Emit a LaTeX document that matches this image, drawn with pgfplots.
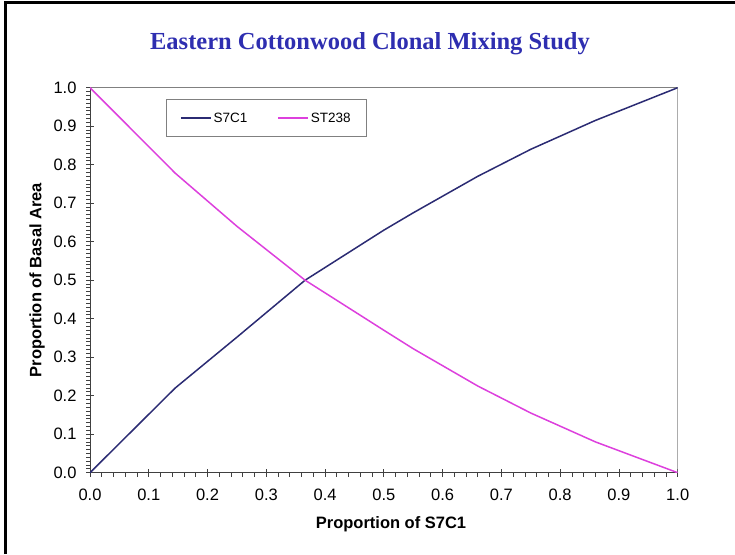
\documentclass[border=0pt]{standalone}
\usepackage{pgfplots}
\pgfplotsset{compat=1.18}
\usepackage{fontspec}
\setmainfont{Liberation Sans}
\newfontfamily\titlefont{Liberation Serif}
\definecolor{titleblue}{HTML}{2E2EB0}
\definecolor{navyline}{HTML}{2B2B73}
\definecolor{magline}{HTML}{DD40DD}
\begin{document}
\begin{tikzpicture}
\path[use as bounding box] (0pt,0pt) rectangle (735pt,554pt);
\draw[line width=3pt] (5.5pt,0pt) -- (5.5pt,551pt) -- (735pt,551pt);
\node[font=\titlefont\bfseries\fontsize{24.5}{28}\selectfont, text=titleblue] at (370pt,510pt) {Eastern Cottonwood Clonal Mixing Study};
\node[font=\bfseries\fontsize{16.5}{19}\selectfont, rotate=90] at (37pt,274pt) {Proportion of Basal Area};
\node[font=\bfseries\fontsize{16.5}{19}\selectfont] at (391pt,30pt) {Proportion of S7C1};
\begin{axis}[
  at={(90pt,81.3pt)}, anchor=south west, scale only axis,
  width=587.7pt, height=385pt,
  xmin=0, xmax=1, ymin=0, ymax=1,
  axis lines*=left,
  axis line style={draw=black!75, line width=1pt},
  xtick={0,0.1,0.2,0.3,0.4,0.5,0.6,0.7,0.8,0.9,1},
  ytick={0,0.1,0.2,0.3,0.4,0.5,0.6,0.7,0.8,0.9,1},
  minor x tick num=4, minor y tick num=9,
  tick align=center, major tick length=8pt, minor tick length=4pt,
  minor x tick style={yshift=-2pt}, minor y tick style={xshift=-2pt},
  tick style={black!75, line width=0.8pt},
  ticklabel style={font=\fontsize{16.5}{19}\selectfont},
  xticklabel style={yshift=-9pt},
  yticklabel style={xshift=-6pt},
  /pgf/number format/fixed, /pgf/number format/fixed zerofill,
  /pgf/number format/precision=1, /pgf/number format/assume math mode=true,
  legend columns=2,
  legend style={at={(0.129,0.970)}, anchor=north west, draw=gray, line width=0.8pt,
    font=\fontsize{13.5}{16}\selectfont, inner xsep=14pt, inner ysep=11pt,
    /tikz/every even column/.append style={column sep=28pt}},
  legend image code/.code={\draw[#1] (0pt,0pt) -- (30pt,0pt);},
]
\draw[gray, line width=1pt] (rel axis cs:0,1) -- (rel axis cs:1,1) -- (rel axis cs:1,0);
\addplot[navyline, line width=1.5pt] coordinates {
(0,0) (0.145,0.22) (0.25,0.352) (0.366,0.5) (0.5,0.63) (0.55,0.675) (0.66,0.77) (0.75,0.84) (0.86,0.915) (1,1)};
\addlegendentry{S7C1}
\addplot[magline, line width=1.5pt] coordinates {
(0,1) (0.145,0.778) (0.25,0.64) (0.366,0.5) (0.5,0.37) (0.55,0.322) (0.66,0.225) (0.75,0.155) (0.86,0.08) (1,0)};
\addlegendentry{ST238}
\end{axis}
\end{tikzpicture}
\end{document}
